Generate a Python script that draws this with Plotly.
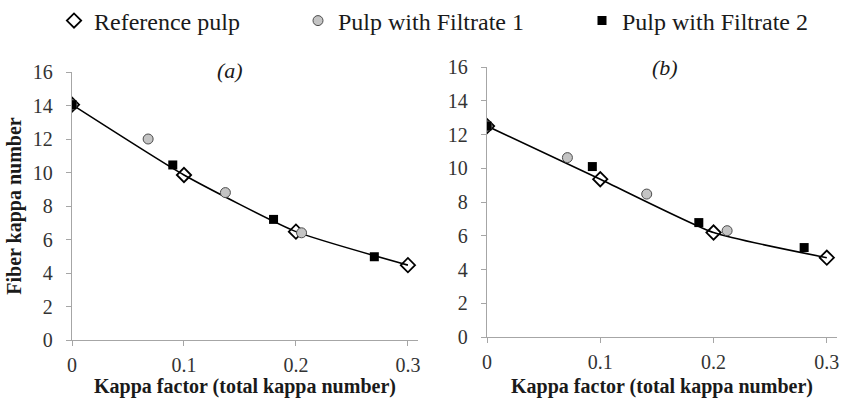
import plotly.graph_objects as go

# Panel (a)
a_ref_x = [0, 0.1, 0.2, 0.3]
a_ref_y = [14.05, 9.85, 6.47, 4.47]
a_f1_x = [0, 0.068, 0.137, 0.205]
a_f1_y = [14.05, 12.0, 8.8, 6.4]
a_f2_x = [0, 0.09, 0.18, 0.27]
a_f2_y = [14.05, 10.45, 7.2, 4.97]

# Panel (b)
b_ref_x = [0, 0.1, 0.2, 0.3]
b_ref_y = [12.5, 9.35, 6.19, 4.7]
b_f1_x = [0, 0.071, 0.141, 0.212]
b_f1_y = [12.5, 10.63, 8.47, 6.3]
b_f2_x = [0, 0.093, 0.187, 0.28]
b_f2_y = [12.5, 10.1, 6.78, 5.3]

series_names = ["Reference pulp", "Pulp with Filtrate 1", "Pulp with Filtrate 2"]
x_ticks = [0, 0.1, 0.2, 0.3]
x_ticktext = ["0", "0.1", "0.2", "0.3"]
y_ticks = [0, 2, 4, 6, 8, 10, 12, 14, 16]
panel_labels = ["(a)", "(b)"]
x_title = "Kappa factor (total kappa number)"
y_title = "Fiber kappa number"

FONT = "Liberation Serif"
AXIS_GRAY = "#a6a6a6"
TEXT = "#1a1a1a"

ref_marker = dict(symbol="diamond-open", size=11, color="black", line=dict(width=1.8, color="black"))
f1_marker = dict(symbol="circle", size=10, color="#c4c4c4", line=dict(width=1, color="#4d4d4d"))
f2_marker = dict(symbol="square", size=9, color="black", line=dict(width=0))

fig = go.Figure()

panels = [
    (a_ref_x, a_ref_y, a_f1_x, a_f1_y, a_f2_x, a_f2_y, "x", "y"),
    (b_ref_x, b_ref_y, b_f1_x, b_f1_y, b_f2_x, b_f2_y, "x2", "y2"),
]
legend_ids = ["legend", "legend2", "legend3"]

for i, (rx, ry, f1x, f1y, f2x, f2y, xa, ya) in enumerate(panels):
    # smoothed curve through the reference pulp points
    fig.add_trace(go.Scatter(x=rx, y=ry, mode="lines", xaxis=xa, yaxis=ya,
                             line=dict(color="black", width=1.6, shape="spline", smoothing=0.5),
                             showlegend=False, hoverinfo="skip"))
    fig.add_trace(go.Scatter(x=rx, y=ry, mode="markers", xaxis=xa, yaxis=ya,
                             marker=ref_marker, name=series_names[0],
                             showlegend=(i == 0), legend=legend_ids[0]))
    fig.add_trace(go.Scatter(x=f1x, y=f1y, mode="markers", xaxis=xa, yaxis=ya,
                             marker=f1_marker, name=series_names[1],
                             showlegend=(i == 0), legend=legend_ids[1]))
    fig.add_trace(go.Scatter(x=f2x, y=f2y, mode="markers", xaxis=xa, yaxis=ya,
                             marker=f2_marker, name=series_names[2],
                             showlegend=(i == 0), legend=legend_ids[2]))

W, H = 842, 398

xaxis_common = dict(range=[0, 0.309], tickvals=x_ticks, ticktext=x_ticktext,
                    showline=True, linecolor=AXIS_GRAY, linewidth=1.3,
                    ticks="outside", ticklen=5, tickcolor=AXIS_GRAY,
                    showgrid=False, zeroline=False, ticklabelstandoff=2,
                    tickfont=dict(family=FONT, size=20, color="#333333"),
                    title=dict(text="<b>" + x_title + "</b>", standoff=9,
                               font=dict(family=FONT, size=20, color=TEXT)))
yaxis_common = dict(range=[0, 16], tickvals=y_ticks,
                    showline=True, linecolor=AXIS_GRAY, linewidth=1.3,
                    ticks="outside", ticklen=5, tickcolor=AXIS_GRAY,
                    showgrid=False, zeroline=False, ticklabelstandoff=9,
                    tickfont=dict(family=FONT, size=20, color="#333333"))

legend_common = dict(orientation="h", yanchor="middle", y=1 - 21 / H, xanchor="left",
                     font=dict(family=FONT, size=24, color=TEXT),
                     bgcolor="rgba(0,0,0,0)", itemwidth=30)

fig.update_layout(
    width=W, height=H,
    margin=dict(l=0, r=0, t=0, b=0, autoexpand=False),
    font=dict(family=FONT, color=TEXT),
    paper_bgcolor="white", plot_bgcolor="white",
    xaxis=dict(domain=[72 / W, 418 / W], anchor="y", **xaxis_common),
    yaxis=dict(domain=[1 - 340 / H, 1 - 72 / H], anchor="x",
               title=dict(text="<b>" + y_title + "</b>", standoff=5,
                          font=dict(family=FONT, size=20, color=TEXT)),
               **yaxis_common),
    xaxis2=dict(domain=[487 / W, 837 / W], anchor="y2", **xaxis_common),
    yaxis2=dict(domain=[1 - 337 / H, 1 - 67 / H], anchor="x2", **yaxis_common),
    legend=dict(x=54 / W, **legend_common),
    legend2=dict(x=298 / W, **legend_common),
    legend3=dict(x=582 / W, **legend_common),
)

fig.add_annotation(text="<i>" + panel_labels[0] + "</i>", xref="paper", yref="paper",
                   x=230 / W, y=1 - 71 / H, xanchor="center", yanchor="middle",
                   showarrow=False, font=dict(family=FONT, size=22, color=TEXT))
fig.add_annotation(text="<i>" + panel_labels[1] + "</i>", xref="paper", yref="paper",
                   x=665 / W, y=1 - 67 / H, xanchor="center", yanchor="middle",
                   showarrow=False, font=dict(family=FONT, size=22, color=TEXT))

fig.write_html("out.html")
